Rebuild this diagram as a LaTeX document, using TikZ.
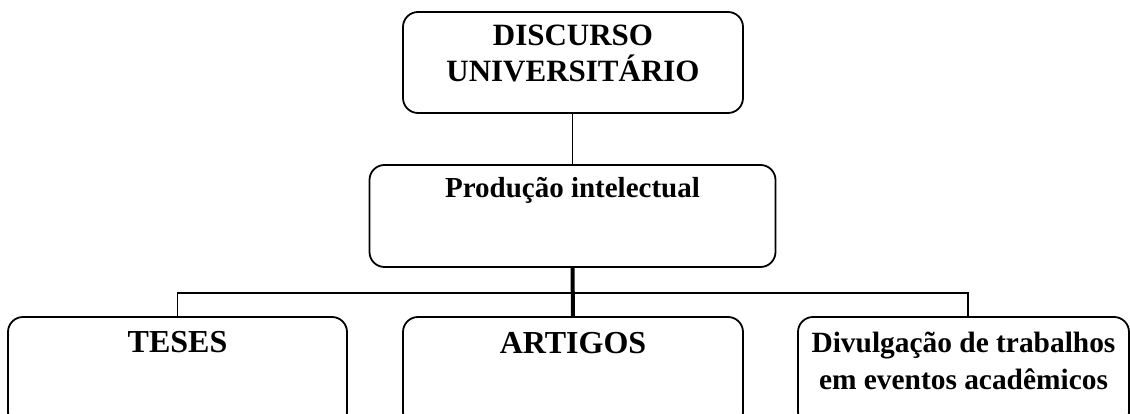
\documentclass[tikz,border=0pt]{standalone}
\usepackage{fontspec}
\setmainfont{Liberation Serif}
\usetikzlibrary{positioning}

\tikzset{
	caixa/.style={draw, line width=1.8pt, rounded corners=15pt, inner sep=0pt},
	rotulo/.style={inner sep=0pt, align=center, font=\bfseries},
	fio/.style={line width=1.8pt},
}

\begin{document}
\begin{tikzpicture}[x=1pt, y=1pt]
			%%%%% START %%%%%
			\useasboundingbox (0, 0) rectangle (1130, 414);
			\clip (0, 0) rectangle (1130, 414);
			
			\node[caixa, minimum width=340pt, minimum height=101pt] (disc) at (573, 351.5) {};
			\node[rotulo, below=14pt of disc.north, font=\bfseries\fontsize{31}{36}\selectfont] (discT) {DISCURSO\\UNIVERSITÁRIO};
			
			\node[caixa, minimum width=406pt, minimum height=102pt] (prod) at (572.5, 198) {};
			\node[rotulo, below=13pt of prod.north, font=\bfseries\fontsize{29}{35}\selectfont] (prodT) {Produção intelectual};
			
			\node[caixa, minimum width=339pt, minimum height=110pt] (teses) at (177.5, 42) {};
			\node[rotulo, below=15pt of teses.north, font=\bfseries\fontsize{32}{38}\selectfont] (tesesT) {TESES};
			
			\node[caixa, minimum width=340pt, minimum height=110pt] (art) at (573, 42) {};
			\node[rotulo, below=16pt of art.north, font=\bfseries\fontsize{32}{38}\selectfont] (artT) {ARTIGOS};
			
			\node[caixa, minimum width=331pt, minimum height=110pt] (div) at (963.5, 42) {};
			\node[rotulo, below=16pt of div.north, font=\bfseries\fontsize{29.4}{37}\selectfont] (divT) {Divulgação de trabalhos\\em eventos acadêmicos};
			
			\coordinate (barra) at (573, 121);
			
			\draw[fio] (prod.north) -- (prod.north |- disc.south);
			\draw[line width=4pt] (prod.south) -- (art.north);
			\draw[fio] (teses.north) |- (barra) -| ([xshift=4.5pt]div.north);
			
			%%%%% END %%%%%
\end{tikzpicture}
\end{document}
